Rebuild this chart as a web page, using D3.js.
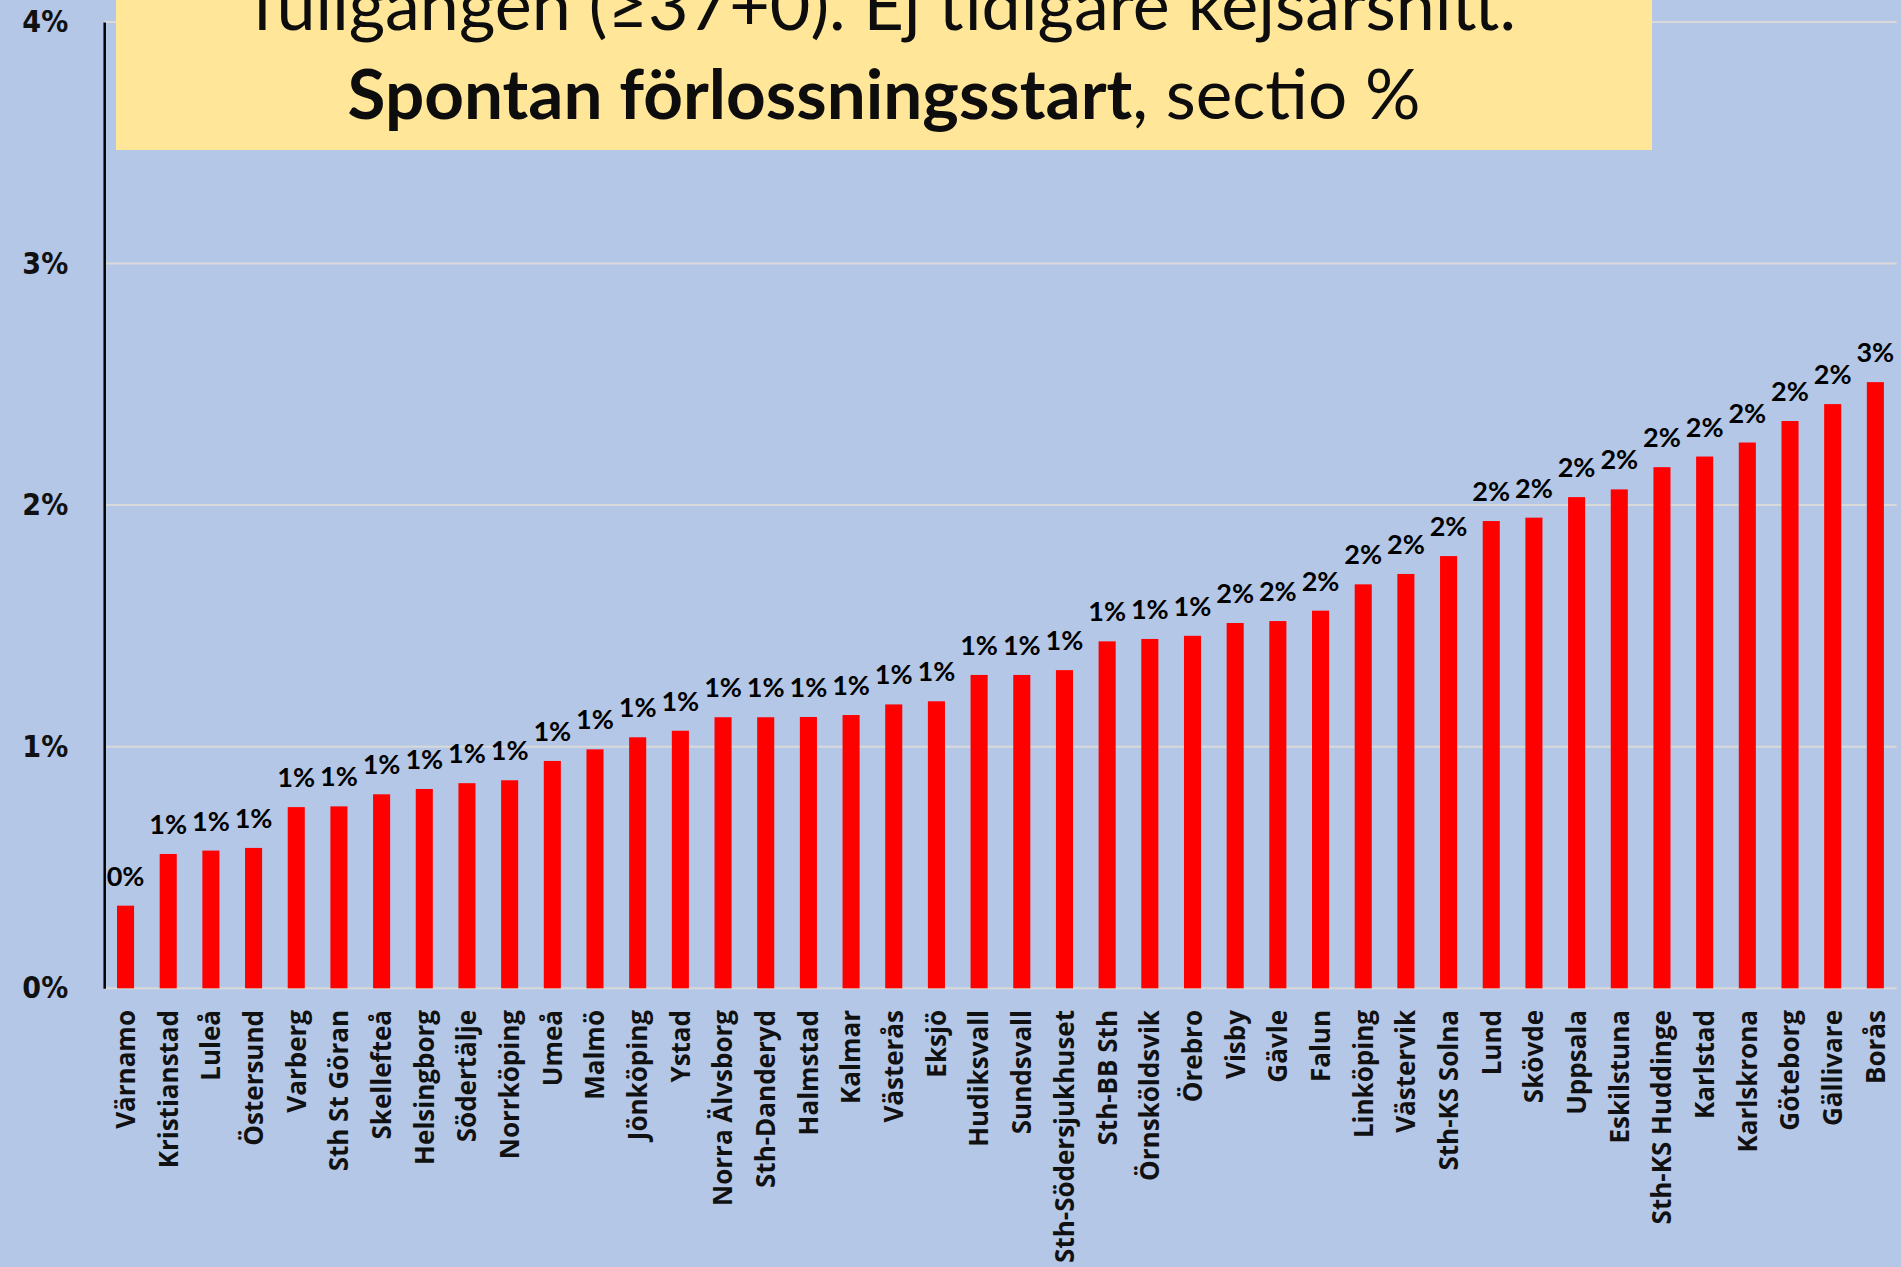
<!DOCTYPE html>
<html>
<head>
<meta charset="utf-8">
<script src="https://cdn.jsdelivr.net/npm/d3@7"></script>
<style>
  html, body { margin: 0; padding: 0; background: #B4C7E7; overflow: hidden; }
  svg { display: block; }
</style>
</head>
<body>
<svg id="chart" width="1901" height="1267"></svg>
<script>
// ---- Data ----
const categories = ["Värnamo","Kristianstad","Luleå","Östersund","Varberg","Sth St Göran","Skellefteå","Helsingborg","Södertälje","Norrköping","Umeå","Malmö","Jönköping","Ystad","Norra Älvsborg","Sth-Danderyd","Halmstad","Kalmar","Västerås","Eksjö","Hudiksvall","Sundsvall","Sth-Södersjukhuset","Sth-BB Sth","Örnsköldsvik","Örebro","Visby","Gävle","Falun","Linköping","Västervik","Sth-KS Solna","Lund","Skövde","Uppsala","Eskilstuna","Sth-KS Huddinge","Karlstad","Karlskrona","Göteborg","Gällivare","Borås"];
const values = [0.342,0.556,0.570,0.581,0.750,0.753,0.803,0.825,0.849,0.861,0.941,0.989,1.039,1.066,1.122,1.122,1.123,1.131,1.175,1.188,1.297,1.297,1.317,1.436,1.446,1.459,1.512,1.520,1.563,1.672,1.715,1.789,1.934,1.948,2.033,2.065,2.157,2.201,2.259,2.348,2.418,2.509];
const yTicks = [0, 1, 2, 3, 4];
const titleLine1 = "fullgången (≥37+0). Ej tidigare kejsarsnitt.";
const titleLine2Bold = "Spontan förlossningsstart";
const titleLine2Rest = ", sectio %";

// ---- Layout ----
const W = 1901, H = 1267;
const plotLeft = 104.2, plotRight = 1896.7;
const yZero = 988.3, yTop = 21.9;

const svg = d3.select("#chart");
svg.append("rect").attr("width", W).attr("height", H).attr("fill", "#B4C7E7");

const x = d3.scaleBand().domain(categories).range([plotLeft, plotRight]).paddingInner(0.6).paddingOuter(0.3);
const y = d3.scaleLinear().domain([0, 4]).range([yZero, yTop]);

// gridlines
svg.append("g").selectAll("line").data(yTicks).join("line")
  .attr("x1", plotLeft).attr("x2", plotRight)
  .attr("y1", d => y(d)).attr("y2", d => y(d))
  .attr("stroke", "#D9D9D9").attr("stroke-width", 2);

// bars
svg.append("g").selectAll("rect").data(values).join("rect")
  .attr("x", (d, i) => x(categories[i]))
  .attr("width", x.bandwidth())
  .attr("y", d => y(d))
  .attr("height", d => y(0) - y(d))
  .attr("fill", "#FF0000");

// data labels
svg.append("g").selectAll("text").data(values).join("text")
  .attr("x", (d, i) => x(categories[i]) + x.bandwidth() / 2)
  .attr("y", d => y(d) - 20)
  .attr("text-anchor", "middle")
  .attr("font-family", "Lato, 'Open Sans', sans-serif")
  .attr("font-weight", "bold")
  .attr("font-size", 27)
  .attr("fill", "#000")
  .text(d => Math.round(d) + "%");

// y axis
const yAxis = svg.append("g").attr("transform", `translate(${plotLeft},0)`)
  .call(d3.axisLeft(y).tickValues(yTicks).tickSize(0).tickPadding(36).tickFormat(d => d + "%"));
yAxis.select(".domain").attr("stroke", "#000").attr("stroke-width", 2.5);
yAxis.selectAll("text")
  .attr("font-family", "'DejaVu Sans Condensed', 'DejaVu Sans', sans-serif")
  .attr("font-weight", "bold")
  .attr("font-size", 30)
  .attr("fill", "#111");

// x labels
svg.append("g").selectAll("text").data(categories).join("text")
  .attr("transform", d => `translate(${x(d) + x.bandwidth() / 2},1010) rotate(-90)`)
  .attr("text-anchor", "end")
  .attr("dy", "0.36em")
  .attr("font-family", "'Open Sans', sans-serif")
  .attr("font-weight", "bold")
  .attr("font-size", 26)
  .attr("fill", "#111")
  .text(d => d);

// title box
const boxX = 116, boxW = 1536, boxH = 150;
svg.append("rect").attr("x", boxX).attr("y", 0).attr("width", boxW).attr("height", boxH).attr("fill", "#FFE699");
const cx = boxX + boxW / 2;

const t1 = svg.append("text").attr("x", cx).attr("y", 30)
  .attr("text-anchor", "middle")
  .attr("font-family", "Lato, 'Open Sans', sans-serif")
  .attr("font-size", 60).attr("fill", "#0D0D0D")
  .text(titleLine1);
// fit width
let w1 = t1.node().getComputedTextLength();
t1.attr("font-size", 60 * 1264 / w1);

const t2 = svg.append("text").attr("x", cx).attr("y", 119)
  .attr("text-anchor", "middle")
  .attr("font-family", "Lato, 'Open Sans', sans-serif")
  .attr("font-size", 60).attr("fill", "#0D0D0D");
t2.append("tspan").attr("font-weight", "bold").text(titleLine2Bold);
t2.append("tspan").text(titleLine2Rest);
let w2 = t2.node().getComputedTextLength();
t2.attr("font-size", 60 * 1073 / w2);
</script>
</body>
</html>
